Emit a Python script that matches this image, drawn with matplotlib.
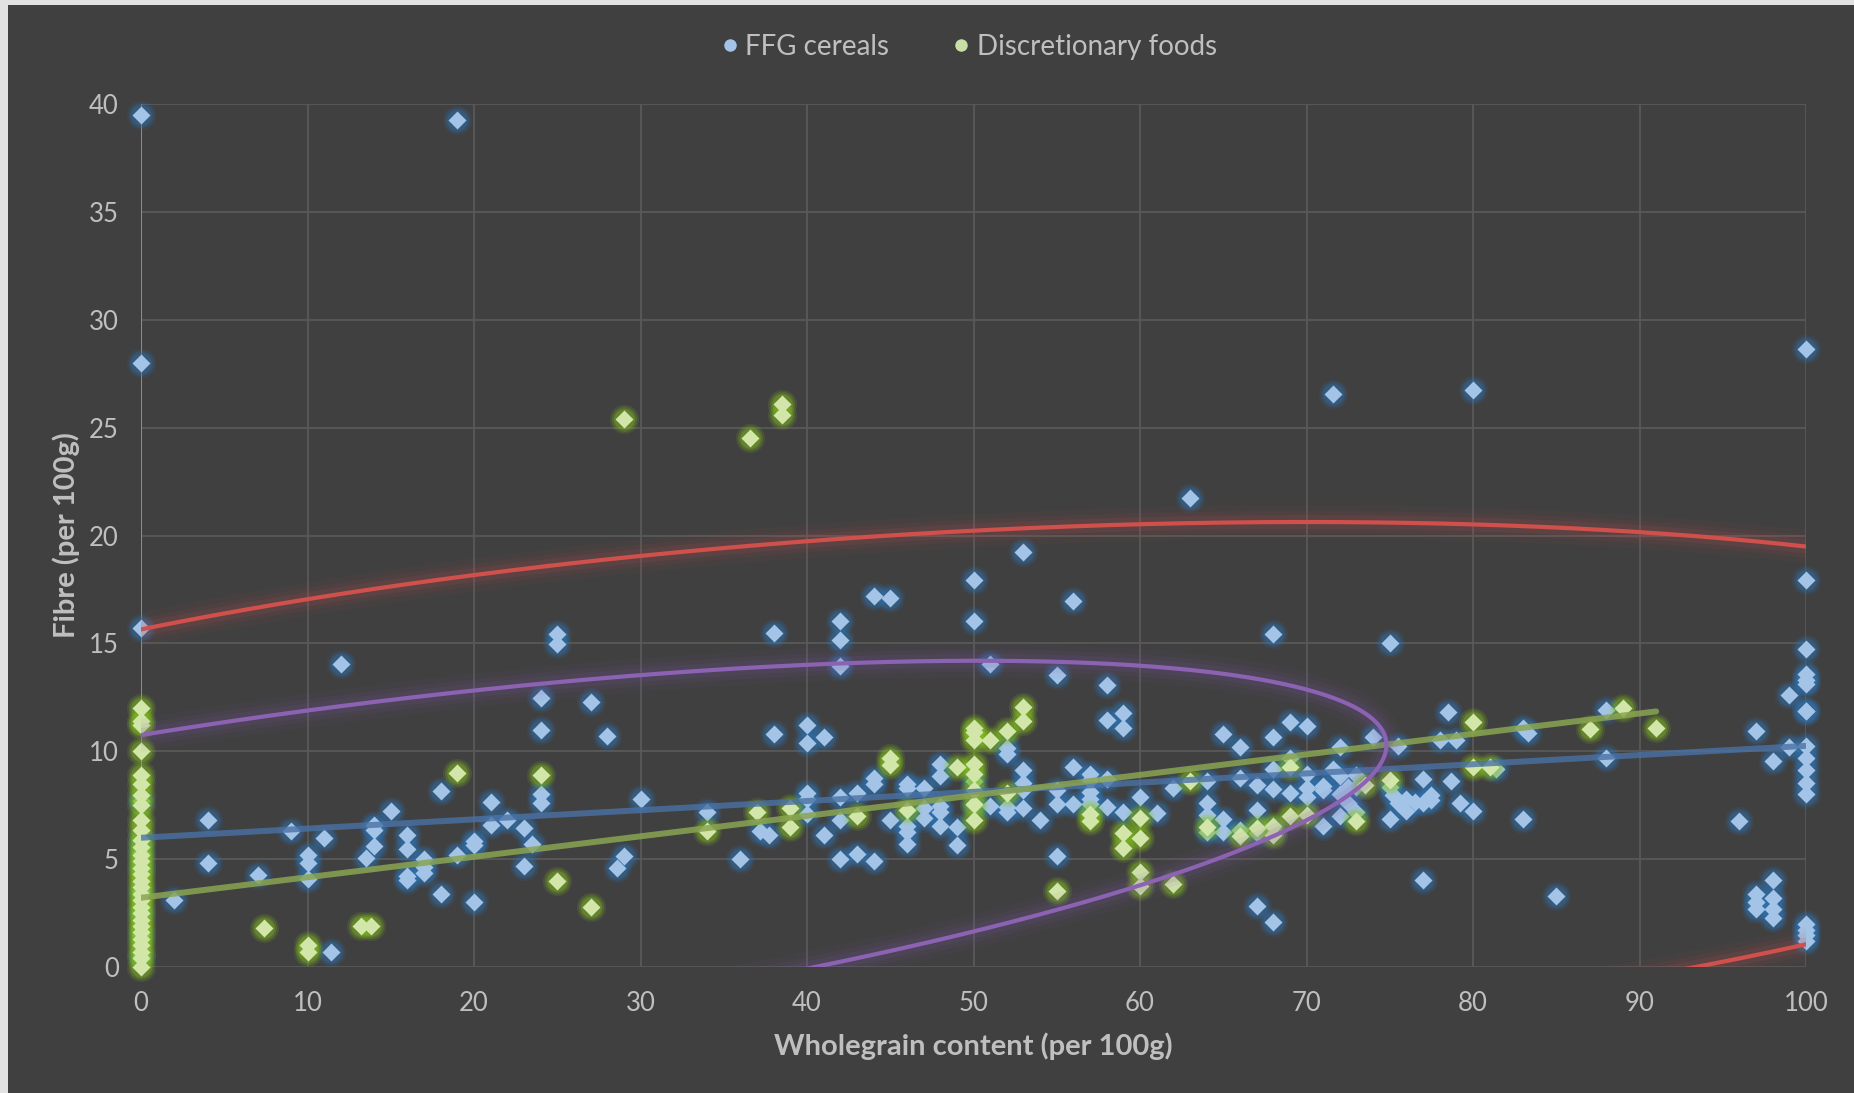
import numpy as np
import matplotlib
matplotlib.use('Agg')
import matplotlib.pyplot as plt
from matplotlib.patches import Rectangle
from matplotlib.lines import Line2D

plt.rcParams['font.family'] = ['Lato', 'DejaVu Sans']

# ---------------- data ----------------
series_names = ['FFG cereals', 'Discretionary foods']

cereal_x = [
    0, 0, 0, 0, 0, 0, 0, 0, 0, 0, 0,
    2, 4, 4, 7, 9, 10, 10, 10, 11, 11.4, 12, 13.5, 14, 14, 14, 15,
    16, 16, 16, 16, 17, 17, 17, 18, 18, 19, 19, 20, 20, 20, 21, 21, 22, 23, 23, 23.5,
    24, 24, 24, 24, 25, 25, 27, 28, 28.6, 29, 30, 34, 36, 37.2, 37.7, 38, 38,
    40, 40, 40, 40, 40, 41, 41, 42, 42, 42, 42, 42, 42, 43, 43, 44, 44, 44, 44, 45, 45,
    46, 46, 46, 46, 46, 47, 47, 47, 48, 48, 48, 48, 48, 49, 49, 50, 50, 50, 50,
    51, 51, 52, 52, 52, 52, 53, 53, 53, 53, 53, 54, 55, 55, 55, 55, 56, 56, 56,
    57, 57, 57, 57, 57, 58, 58, 58, 58, 59, 59, 59, 60, 61, 62, 63,
    64, 64, 64, 64, 65, 65, 65, 66, 66, 66, 67, 67, 67, 67, 68, 68, 68, 68, 68, 68,
    69, 69, 69, 70, 70, 70, 70, 71, 71, 71, 71.6, 71.6, 72, 72, 72, 72, 72.5, 72.5, 73, 73, 73, 74,
    75, 75, 75, 75.2, 75.5, 75.5, 76, 76, 76.5, 77, 77, 77, 77.5, 77.5, 78, 78.5, 78.7, 79, 79.2, 80, 80, 81.4,
    83, 83, 83.3, 85, 88, 88, 96, 97, 97, 97, 97, 98, 98, 98, 98, 98, 99, 99,
    100, 100, 100, 100, 100, 100, 100, 100, 100, 100, 100, 100, 100, 100, 100, 100, 100,
]
cereal_y = [
    39.5, 28.0, 15.7, 7.7, 5.9, 5.3, 4.6, 3.5, 2.5, 1.5, 0.5,
    3.1, 6.8, 4.8, 4.25, 6.3, 5.2, 4.8, 4.1, 6.0, 0.7, 14.05, 5.05, 6.6, 6.35, 5.6, 7.25,
    6.1, 5.45, 4.2, 4.05, 5.0, 4.65, 4.35, 8.15, 3.4, 39.25, 5.2, 5.85, 5.65, 3.0, 7.65, 6.6, 6.8, 6.45, 4.7, 5.7,
    12.45, 11.0, 8.0, 7.6, 15.45, 14.95, 12.3, 10.7, 4.6, 5.15, 7.8, 7.2, 5.0, 6.3, 6.1, 15.5, 10.8,
    11.2, 10.4, 8.05, 7.8, 7.1, 10.65, 6.1, 16.05, 15.15, 13.95, 7.9, 6.8, 5.0, 8.05, 5.25, 17.2, 8.75, 8.5, 4.9, 17.1, 6.8,
    8.5, 8.3, 6.55, 6.25, 5.7, 8.3, 7.35, 6.9, 9.4, 8.85, 7.45, 7.2, 6.55, 6.5, 5.65, 17.95, 16.05, 8.6, 7.5,
    14.05, 7.45, 10.15, 9.85, 7.4, 7.2, 19.25, 9.15, 8.55, 8.2, 7.35, 6.8, 13.55, 8.2, 7.55, 5.15, 16.95, 9.25, 7.55,
    8.95, 8.65, 8.1, 7.8, 7.55, 13.05, 11.45, 8.7, 7.4, 11.75, 11.1, 7.2, 7.9, 7.15, 8.3, 21.75,
    8.6, 7.6, 7.05, 6.25, 10.8, 6.85, 6.25, 10.2, 8.75, 6.35, 8.45, 7.3, 6.2, 2.85, 15.45, 10.65, 9.2, 8.25, 6.4, 2.1,
    11.35, 9.7, 8.05, 11.15, 8.95, 8.3, 7.9, 8.4, 8.2, 6.55, 26.55, 9.2, 10.2, 8.85, 8.0, 7.0, 8.35, 7.6, 8.9, 8.35, 7.2, 10.65,
    15.0, 8.35, 6.85, 7.95, 10.25, 7.6, 7.8, 7.25, 7.65, 8.7, 7.6, 4.05, 7.95, 7.75, 10.5, 11.8, 8.6, 10.5, 7.6, 26.75, 7.25, 9.2,
    11.1, 6.85, 10.85, 3.3, 11.9, 9.7, 6.75, 10.95, 3.4, 3.0, 2.7, 9.55, 4.05, 3.2, 2.7, 2.25, 12.6, 10.2,
    28.65, 17.95, 14.75, 13.6, 13.3, 13.1, 11.85, 11.85, 10.25, 9.7, 9.15, 8.55, 8.0, 2.0, 1.7, 1.5, 1.2,
]

disc_x = [
    0, 0, 0, 0, 0, 0, 0, 0, 0, 0, 0, 0, 0, 0, 0, 0, 0, 0, 0, 0, 0, 0, 0, 0, 0, 0, 0, 0, 0, 0,
    7.4, 10, 10, 13.2, 13.8, 19, 24, 25, 27, 29, 34, 36.6, 37, 38.5, 38.5, 39, 39, 43, 45, 45, 46, 49,
    50, 50, 50, 50, 50, 50, 50, 50, 51, 52, 52, 53, 53, 55, 57, 57, 59, 59, 60, 60, 60, 60, 62, 63,
    64, 66, 67, 68, 68, 69, 69, 70, 73, 73.5, 75, 80, 80, 81, 87, 89, 91,
]
disc_y = [
    12.0, 11.4, 11.2, 10.0, 8.9, 8.5, 7.95, 7.5, 6.8, 6.35, 5.9, 5.55, 5.2, 4.9, 4.6, 4.3, 4.0, 3.7, 3.4, 3.1,
    2.8, 2.5, 2.2, 1.9, 1.6, 1.3, 1.0, 0.7, 0.4, 0.0,
    1.8, 1.0, 0.7, 1.9, 1.9, 9.0, 8.9, 4.0, 2.8, 25.4, 6.3, 24.5, 7.2, 26.1, 25.6, 7.35, 6.5, 7.0, 9.7, 9.35, 7.3, 9.25,
    11.1, 10.9, 10.5, 9.4, 8.95, 8.2, 7.55, 6.8, 10.5, 10.95, 8.05, 12.05, 11.4, 3.5, 7.1, 6.75, 6.2, 5.5, 6.9, 6.0, 4.4, 3.75, 3.85, 8.6,
    6.5, 6.05, 6.45, 6.55, 6.1, 9.25, 7.0, 7.05, 6.75, 8.45, 8.65, 11.35, 9.25, 9.25, 11.05, 12.0, 11.1,
]

# linear trendlines (intercept, slope, x-range)
cereal_trend = [5.99, 0.0426]
cereal_trend_range = [0, 100]
disc_trend = [3.21, 0.0949]
disc_trend_range = [0, 91]

# points
purple_x = [0, 10, 24, 27.6, 40, 48, 50, 56, 60, 63.6, 69.6, 73.2, 74.6, 74.9,
            74.2, 72, 69.6, 65.6, 60, 50, 48, 46, 40]
purple_y = [10.75, 11.9, 13.13, 13.36, 14.03, 14.2, 14.16, 14.07, 13.95, 13.8, 12.98, 11.9, 10.97, 10.43,
            9.43, 7.73, 6.65, 5.26, 3.8, 1.6, 1.4, 0.75, 0.0]
red_x = [0, 4.7, 10.3, 24, 30, 40, 46, 50, 57.6, 60, 63, 66.6, 70, 75.7, 80, 87.6, 90.6, 100,
         93.2, 96.4, 100]
red_y = [15.7, 16.38, 16.99, 18.54, 19.08, 19.74, 19.98, 20.21, 20.49, 20.52, 20.57, 20.66, 20.66, 20.62,
         20.51, 20.26, 20.1, 19.46, 0.0, 0.48, 1.0]

x_ticks = [0, 10, 20, 30, 40, 50, 60, 70, 80, 90, 100]
y_ticks = [0, 5, 10, 15, 20, 25, 30, 35, 40]
x_title = 'Wholegrain content (per 100g)'
y_title = 'Fibre (per 100g)'


def ellipse_outline(xs, ys, sx=100.0, sy=20.0, n=3000):
    u = np.asarray(xs, float) / sx
    v = np.asarray(ys, float) / sy
    D = np.column_stack([u * u, u * v, v * v, u, v, np.ones_like(u)])
    _, _, Vt = np.linalg.svd(D)
    A, B, C, Dc, E, F = Vt[-1]
    u0, v0 = np.linalg.solve(np.array([[2 * A, B], [B, 2 * C]]), [-Dc, -E])
    Fc = F + (Dc * u0 + E * v0) / 2.0
    w, V = np.linalg.eigh(np.array([[A, B / 2], [B / 2, C]]))
    a = np.sqrt(-Fc / w)
    t = np.linspace(0, 2 * np.pi, n)
    pu = u0 + a[0] * np.cos(t) * V[0, 0] + a[1] * np.sin(t) * V[0, 1]
    pv = v0 + a[0] * np.cos(t) * V[1, 0] + a[1] * np.sin(t) * V[1, 1]
    return pu * sx, pv * sy


# ---------------- figure ----------------
W, H = 1854, 1093
fig = plt.figure(figsize=(W / 100, H / 100), dpi=100, facecolor='#E2E2E2')
fig.patches.append(Rectangle((8 / W, 0), 1, 1 - 5 / H, transform=fig.transFigure,
                             facecolor='#404040', edgecolor='none', zorder=-10))

ax = fig.add_axes([141 / W, 1 - 967 / H, (1806 - 141) / W, (967 - 104) / H])
ax.set_facecolor('none')
ax.set_xlim(0, 100)
ax.set_ylim(0, 40)
ax.set_xticks(x_ticks)
ax.set_yticks(y_ticks)
ax.grid(True, color='#595959', lw=1.3, zorder=0)
ax.set_axisbelow(True)
for s in ax.spines.values():
    s.set_visible(False)
ax.axvline(0, color='#8A8A8A', lw=1.5, zorder=1)
ax.tick_params(length=0, labelsize=18.5, colors='#BFBFBF')
ax.tick_params(axis='x', pad=17)
ax.tick_params(axis='y', pad=16)

ax.set_xlabel(x_title, fontsize=21, fontweight='bold', color='#BFBFBF', labelpad=12)
ax.set_ylabel(y_title, fontsize=21, fontweight='bold', color='#BFBFBF', labelpad=6)


def glow_points(x, y, fill, glow, z):
    for ms, a in [(21, 0.13), (18, 0.2), (15, 0.3)]:
        ax.plot(x, y, ls='none', marker='o', ms=ms, mfc=glow, mec='none',
                alpha=a, clip_on=False, zorder=z)
    ax.plot(x, y, ls='none', marker='D', ms=9.3, mfc=fill, mec='none',
            clip_on=False, zorder=z + 0.5)


glow_points(cereal_x, cereal_y, '#A3C4E6', '#2E75B6', 3)
glow_points(disc_x, disc_y, '#D3E6AA', '#86C41C', 4)

# linear trendlines
xs = np.linspace(cereal_trend_range[0], cereal_trend_range[1], 2)
ax.plot(xs, cereal_trend[0] + cereal_trend[1] * xs, color='#4A72A6', lw=4.3, alpha=0.8,
        solid_capstyle='butt', zorder=6)
xs = np.linspace(disc_trend_range[0], disc_trend_range[1], 2)
ax.plot(xs, disc_trend[0] + disc_trend[1] * xs, color='#8AA552', lw=4.3, alpha=0.85,
        solid_capstyle='round', zorder=6)

# ellipses with glow
for px, py, col, gcol in [(purple_x, purple_y, '#8C62B2', '#7E5AA8'),
                          (red_x, red_y, '#D0504C', '#C0504D')]:
    ex, ey = ellipse_outline(px, py)
    for lw, a in [(24, 0.05), (16, 0.08), (10, 0.12)]:
        ax.plot(ex, ey, color=gcol, lw=lw, alpha=a, zorder=7, solid_capstyle='butt')
    ax.plot(ex, ey, color=col, lw=3.0, zorder=7.5)

# legend
handles = [Line2D([], [], ls='none', marker='o', ms=9, mfc='#A3C4E6', mec='none'),
           Line2D([], [], ls='none', marker='o', ms=9, mfc='#C9DFA6', mec='none')]
fig.legend(handles, series_names, loc='center', bbox_to_anchor=(0.522, 1 - 47 / H), ncol=2,
           frameon=False, fontsize=20, labelcolor='#BFBFBF', handletextpad=0.15,
           columnspacing=2.2, handlelength=0.8)

fig.savefig('out.png', dpi=100, facecolor=fig.get_facecolor())
